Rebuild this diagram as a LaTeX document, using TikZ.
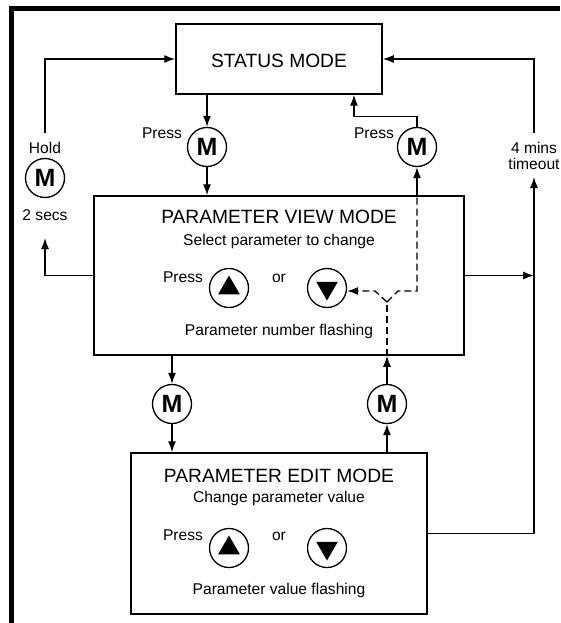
\documentclass[tikz,border=0pt]{standalone}
\usepackage{fontspec}
\setmainfont{Liberation Sans}
\usetikzlibrary{shapes.geometric,arrows.meta}

\begin{document}
\begin{tikzpicture}[x=1pt, y=-1pt,
  box/.style={draw, line width=1.5pt, inner sep=0pt},
  title/.style={anchor=base, font=\fontsize{19.2}{23}\selectfont},
  txt/.style={anchor=base, font=\fontsize{15.6}{18}\selectfont},
  mkey/.style={circle, draw, line width=1.3pt, minimum size=39pt, inner sep=0pt, font=\fontsize{25}{25}\selectfont\bfseries},
  btn/.style={circle, draw, line width=1.3pt, minimum size=39pt, inner sep=0pt},
  tri/.style={regular polygon, regular polygon sides=3, fill, inner sep=0pt, minimum size=25pt},
  arr/.style={-{Latex[length=11pt,width=8pt]}, line width=1.3pt},
  dashline/.style={line width=1.3pt, dash pattern=on 7pt off 4pt}]
\useasboundingbox (0,0) rectangle (560,623);
\draw[line width=5pt] (11.5,623) -- (11.5,8.5) -- (560,8.5); %frame

% mode boxes
\node[box, minimum width=206pt, minimum height=70pt] (status) at (279,59) {};
\node[title] (statustxt) at (279,68) {STATUS MODE};
\node[box, minimum width=370pt, minimum height=159pt] (pvm) at (279,275.5) {};
\node[title] (pvmtitle) at (279,223) {PARAMETER VIEW MODE};
\node[txt] (pvmsub) at (279,245) {Select parameter to change};
\node[txt] (pvmpress) at (183,282) {Press};
\node[txt] (pvmor) at (279,282) {or};
\node[txt] (pvmflash) at (279,335) {Parameter number flashing};
\node[box, minimum width=296pt, minimum height=161pt] (pem) at (279,533.5) {};
\node[title] (pemtitle) at (279,482) {PARAMETER EDIT MODE};
\node[txt] (pemsub) at (279,502) {Change parameter value};
\node[txt] (pempress) at (183,540) {Press};
\node[txt] (pemor) at (279,540) {or};
\node[txt] (pemflash) at (279,594) {Parameter value flashing};

% up / down keys
\foreach \n/\y in {pv/288, pe/548}{
  \node[btn] (\n up) at (229,\y) {};
  \node[tri] at (\n up) {};
  \node[btn] (\n down) at (327,\y) {};
  \node[tri, shape border rotate=180] at (\n down) {};
}

% M keys
\node[mkey] (mhold) at (45,178) {M};
\node[mkey] (mpress) at (207,147) {M};
\node[mkey] (mback) at (417,147) {M};
\node[mkey] (mdown) at (172,404) {M};
\node[mkey] (mup) at (387,404) {M};
\node[txt] (hold) at (45,153) {Hold};
\node[txt] (secs) at (45,220) {2 secs};
\node[txt] (pressl) at (162,139) {Press};
\node[txt] (pressr) at (374,139) {Press};
\node[txt] (mins) at (534,153) {4 mins};
\node[txt] (timeout) at (534,169) {timeout};
\coordinate (holdtop) at (45,133);
\coordinate (holdbot) at (45,238);
\coordinate (totop) at (534,133);
\coordinate (tobot) at (534,177);
\coordinate (split) at (387,302);

% connectors
\draw[arr] (holdtop) |- (status.west);
\draw[arr] (pvm.west) -| (holdbot);
\draw[arr] (mpress |- status.south) -- (mpress);
\draw[arr] (mpress) -- (mpress |- pvm.north);
\draw[arr] (mback.north) -- ++(0,-10) -| ([xshift=75pt]status.south);
\draw[arr] (totop) |- (status.east);
\draw[arr] (pem.east) -| (tobot);
\draw[arr] (pvm.east) -- (pvm.east -| tobot);
\draw[arr] (mdown |- pvm.south) -- (mdown);
\draw[arr] (mdown) -- (mdown |- pem.north);
\draw[arr] (mup |- pem.north) -- (mup);
\draw[arr] (mup) -- (mup |- pvm.south);
\draw[dashline] (mup |- pvm.south) -- (split);
\draw[dashline, arr] (split) -- ++(-12,-11) coordinate (bl) -- (bl -| pvdown.east);
\draw[dashline] (split) -- ++(11,-11) -| (mback |- pvm.north);
\draw[arr] (mback |- pvm.north) -- (mback);
\end{tikzpicture}
\end{document}
